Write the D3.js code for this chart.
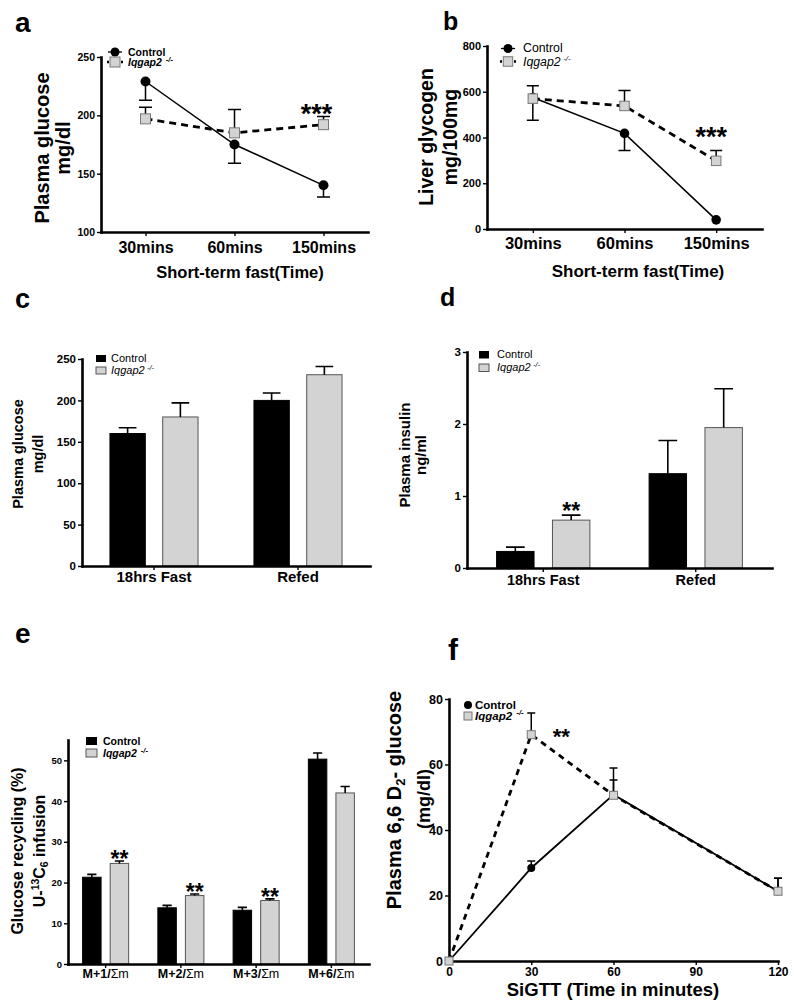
<!DOCTYPE html>
<html><head><meta charset="utf-8">
<script src="https://cdn.jsdelivr.net/npm/d3@7"></script>
<style>body{margin:0;background:#fff}svg{display:block}</style>
</head><body><svg id="chart" width="794" height="1006"></svg>
<script>
// ---------- DATA ----------
const timeCats = ["30mins","60mins","150mins"];
const aTicks = [100,150,200,250];
const aControl = [229,175,140], aControlErr = [16,16,10];
const aIqgap = [197,185,192],  aIqgapErr = [10,20,7];
const aSig = ["","","***"];
const bTicks = [0,200,400,600,800];
const bControl = [575,418,40], bControlErr = [100,75,0];
const bIqgap = [570,538,298],  bIqgapErr = [56,68,45];
const bSig = ["","","***"];
const condCats = ["18hrs Fast","Refed"];
const cTicks = [0,50,100,150,200,250];
const cControl = [160,200], cControlErr = [7,9];
const cIqgap = [180,231],  cIqgapErr = [17,10];
const dTicks = [0,1,2,3];
const dControl = [0.23,1.31], dControlErr = [0.06,0.46];
const dIqgap = [0.665,1.95], dIqgapErr = [0.07,0.54];
const dSig = ["**",""];
const isoCats = ["M+1","M+2","M+3","M+6"];
const eTicks = [0,10,20,30,40,50];
const eControl = [21.3,13.8,13.2,50.3], eControlErr = [0.7,0.6,0.7,1.5];
const eIqgap = [24.7,16.8,15.6,42.0],  eIqgapErr = [0.6,0.4,0.4,1.6];
const eSig = ["**","**","**",""];
const fTimes = [0,30,60,120];
const fXTicks = [0,30,60,90,120];
const fYTicks = [0,20,40,60,80];
const fControl = [0,28.4,50.8,21.3], fControlErr = [0,2.1,4.5,4];
const fIqgap = [0,69.1,50.6,21.3],  fIqgapErr = [0,6.6,8.3,4];
const fSig = ["","**","",""];
const legendNames = ["Control","Iqgap2"];

// ---------- HELPERS ----------
const FONT = '"Liberation Sans", Arial, Helvetica, sans-serif';
const svg = d3.select("#chart").attr("font-family", FONT);
svg.append("rect").attr("width",794).attr("height",1006).attr("fill","#fff");
const GREY = "#d3d3d3";
const numFmt = d3.format("~g");

function styleAxis(g, fs){
  g.attr("font-family", FONT);
  g.select(".domain").attr("stroke","#000").attr("stroke-width",2.6).attr("stroke-linecap","square");
  g.selectAll(".tick line").attr("stroke","#000").attr("stroke-width",1.4);
  g.selectAll(".tick text").attr("fill","#000").attr("font-weight","bold").attr("font-size",fs);
}
function xAxis(scale, y, fs, off, ticks, fmt){
  const ax = d3.axisBottom(scale).tickSize(4).tickSizeOuter(0);
  if (ticks) ax.tickValues(ticks);
  if (fmt) ax.tickFormat(fmt);
  const g = svg.append("g").attr("transform",`translate(0,${y})`).call(ax);
  styleAxis(g, fs);
  g.selectAll(".tick text").attr("y", off).attr("dy", 0);
  return g;
}
function yAxis(scale, x, fs, ticks){
  const g = svg.append("g").attr("transform",`translate(${x},0)`)
    .call(d3.axisLeft(scale).tickValues(ticks).tickFormat(numFmt).tickSize(4).tickPadding(2).tickSizeOuter(0));
  styleAxis(g, fs);
  return g;
}
function txt(x, y, s, fs, opts={}){
  return svg.append("text").attr("x",x).attr("y",y).attr("font-size",fs)
    .attr("font-weight", opts.weight||"bold").attr("text-anchor", opts.anchor||"start")
    .attr("font-style", opts.italic?"italic":"normal").attr("fill","#000").text(s);
}
function rotTitle(x, y, fs, parts){
  const t = svg.append("text").attr("transform",`translate(${x},${y}) rotate(-90)`)
    .attr("text-anchor","middle").attr("font-size",fs)
    .attr("font-weight","bold").attr("fill","#000");
  let shift = 0, first = true;
  parts.forEach(p=>{
    const ts = t.append("tspan").text(p.t);
    let target = 0;
    if (p.sup) { target = -fs*0.38; ts.attr("font-size", fs*0.65); }
    if (p.sub) { target = fs*0.22; ts.attr("font-size", fs*0.65); }
    ts.attr("dy", target - shift + (first ? fs*0.35 : 0));
    shift = target; first = false;
  });
  return t;
}
// legend: first label (Control) then italic Iqgap2 with superscript -/-
function legendPair(x, y1, y2, fs, weight, supFs){
  const c = txt(x, y1, legendNames[0], fs, {weight});
  const t = svg.append("text").attr("x",x).attr("y",y2).attr("font-size",fs)
    .attr("font-weight",weight).attr("font-style","italic").attr("fill","#000");
  const main = t.append("tspan").text(legendNames[1]);
  const cw = c.node().getComputedTextLength();
  const iw = main.node().getComputedTextLength();
  const dx = Math.max(0.5, cw - iw + 0.5);
  t.append("tspan").attr("dx", dx).attr("dy",-fs*0.4).attr("font-size",supFs).text("-/-");
}
function errBars(data, capW, sw){
  svg.append("g").selectAll("path").data(data.filter(d=>d.e>0)).join("path")
    .attr("d", d=>`M${d.x},${d.y0}V${d.y1}M${d.x-capW/2},${d.y1}H${d.x+capW/2}`)
    .attr("stroke","#000").attr("stroke-width",sw).attr("fill","none");
}
function linePanel(c){
  const line = d3.line().x((d,i)=>c.x(c.xv[i])).y(d=>c.y(d));
  svg.append("path").datum(c.iq).attr("d",line).attr("fill","none").attr("stroke","#000")
    .attr("stroke-width",c.dashW).attr("stroke-dasharray",c.dash);
  svg.append("path").datum(c.ctrl).attr("d",line).attr("fill","none").attr("stroke","#000")
    .attr("stroke-width",c.lineW);
  const eb = (vals, errs, dir) => vals.map((v,i)=>({x:c.x(c.xv[i]), y0:c.y(v), y1:c.y(v+dir*errs[i]), e:errs[i]}));
  errBars(eb(c.ctrl,c.ctrlErr,c.ctrlDir), c.capW, 1.5);
  errBars(eb(c.iq,c.iqErr,c.iqDir), c.capW, 1.5);
  svg.append("g").selectAll("circle").data(c.ctrl).join("circle")
    .attr("cx",(d,i)=>c.x(c.xv[i])).attr("cy",d=>c.y(d)).attr("r",c.r).attr("fill","#000");
  svg.append("g").selectAll("rect").data(c.iq).join("rect")
    .attr("x",(d,i)=>c.x(c.xv[i])-c.sq/2).attr("y",d=>c.y(d)-c.sq/2)
    .attr("width",c.sq).attr("height",c.sq).attr("fill",GREY).attr("stroke","#777").attr("stroke-width",1);
}
function barPanel(c){
  const inner = d3.scaleBand().domain(["c","i"]).range([0,c.x.bandwidth()]).paddingInner(0.33).paddingOuter(0.53);
  const rows = [];
  c.cats.forEach((k,i)=>{
    rows.push({k, s:"c", v:c.ctrl[i], e:c.ctrlErr[i]});
    rows.push({k, s:"i", v:c.iq[i], e:c.iqErr[i]});
  });
  const bx = d=>c.x(d.k)+inner(d.s);
  svg.append("g").selectAll("rect").data(rows).join("rect")
    .attr("x",bx).attr("y",d=>c.y(d.v)).attr("width",inner.bandwidth())
    .attr("height",d=>c.y(0)-c.y(d.v))
    .attr("fill",d=>d.s==="c"?"#000":GREY).attr("stroke",d=>d.s==="c"?"#000":"#555").attr("stroke-width",1);
  errBars(rows.map(d=>({x:bx(d)+inner.bandwidth()/2, y0:c.y(d.v), y1:c.y(d.v+d.e), e:d.e})), inner.bandwidth()*0.5, 1.6);
  return {inner, bx};
}
function markerLegend(x, y1, y2, r, sq, dashW){
  svg.append("line").attr("x1",x-7).attr("x2",x+7).attr("y1",y1).attr("y2",y1).attr("stroke","#000").attr("stroke-width",1.3);
  svg.append("circle").attr("cx",x).attr("cy",y1).attr("r",r).attr("fill","#000");
  svg.append("line").attr("x1",x-8).attr("x2",x+8).attr("y1",y2).attr("y2",y2).attr("stroke","#000")
    .attr("stroke-width",dashW).attr("stroke-dasharray","2,12");
  svg.append("rect").attr("x",x-sq/2).attr("y",y2-sq/2).attr("width",sq).attr("height",sq)
    .attr("fill",GREY).attr("stroke","#777");
}
function boxLegend(x, y1, y2, w, h){
  svg.append("rect").attr("x",x).attr("y",y1).attr("width",w).attr("height",h).attr("fill","#000");
  svg.append("rect").attr("x",x).attr("y",y2).attr("width",w).attr("height",h).attr("fill",GREY).attr("stroke","#555");
}

// ---------- PANEL A ----------
{
  const x = d3.scalePoint().domain(timeCats).range([101,368]).padding(0.5);
  const y = d3.scaleLinear().domain([100,250]).range([232,57]);
  xAxis(x, 232, 16, 21);
  yAxis(y, 101, 10.5, aTicks);
  linePanel({x, y, xv:timeCats, ctrl:aControl, ctrlErr:aControlErr, ctrlDir:-1,
    iq:aIqgap, iqErr:aIqgapErr, iqDir:1, r:5, sq:10, capW:13, dash:"7,5", dashW:2.8, lineW:1.5});
  aSig.forEach((s,i)=>{ if(s) txt(x(timeCats[i])-7, y(aIqgap[i]+aIqgapErr[i])+6, s, 27, {anchor:"middle"}); });
  markerLegend(115, 52, 62, 4.5, 10, 2.5);
  legendPair(128, 56, 66, 10.5, "bold", 7.5);
  rotTitle(42, 148, 20, [{t:"Plasma glucose"}]);
  rotTitle(63, 148, 20, [{t:"mg/dl"}]);
  txt(240, 278, "Short-term fast(Time)", 16.5, {anchor:"middle"});
  txt(15, 32, "a", 28);
}
// ---------- PANEL B ----------
{
  const x = d3.scalePoint().domain(timeCats).range([487,762]).padding(0.5);
  const y = d3.scaleLinear().domain([0,800]).range([229,46]);
  xAxis(x, 229, 16.5, 20);
  yAxis(y, 487, 11, bTicks);
  linePanel({x, y, xv:timeCats, ctrl:bControl, ctrlErr:bControlErr, ctrlDir:-1,
    iq:bIqgap, iqErr:bIqgapErr, iqDir:1, r:4.8, sq:9.5, capW:12, dash:"7,5", dashW:2.8, lineW:1.5});
  bSig.forEach((s,i)=>{ if(s) txt(x(timeCats[i])-5, y(bIqgap[i]+bIqgapErr[i])-5, s, 27, {anchor:"middle"}); });
  markerLegend(508, 48.5, 61.5, 4.5, 9.5, 2.5);
  legendPair(523, 52, 66, 12.3, "normal", 8);
  rotTitle(426, 137, 19.5, [{t:"Liver glycogen"}]);
  rotTitle(450, 137, 19.5, [{t:"mg/100mg"}]);
  txt(638, 277, "Short-term fast(Time)", 17, {anchor:"middle"});
  txt(443, 30, "b", 25);
}
// ---------- PANEL C ----------
{
  const x = d3.scaleBand().domain(condCats).range([82,370]);
  const y = d3.scaleLinear().domain([0,250]).range([566,359]);
  barPanel({x, y, cats:condCats, ctrl:cControl, ctrlErr:cControlErr, iq:cIqgap, iqErr:cIqgapErr});
  xAxis(x, 566, 15, 16);
  yAxis(y, 82, 11.5, cTicks);
  boxLegend(96, 355, 367, 10, 7);
  legendPair(111, 362, 374, 11, "normal", 7.5);
  rotTitle(18, 454, 14.5, [{t:"Plasma glucose"}]);
  rotTitle(38, 454, 14.5, [{t:"mg/dl"}]);
  txt(15, 308, "c", 27);
}
// ---------- PANEL D ----------
{
  const x = d3.scaleBand().domain(condCats).range([467,772]);
  const y = d3.scaleLinear().domain([0,3]).range([568,352]);
  const {inner} = barPanel({x, y, cats:condCats, ctrl:dControl, ctrlErr:dControlErr, iq:dIqgap, iqErr:dIqgapErr});
  xAxis(x, 568, 14.5, 17);
  yAxis(y, 467, 11.5, dTicks);
  dSig.forEach((s,i)=>{ if(s) txt(x(condCats[i])+inner("i")+inner.bandwidth()/2, y(dIqgap[i]+dIqgapErr[i])+4, s, 23, {anchor:"middle"}); });
  boxLegend(479, 351, 364, 10, 7.5);
  legendPair(497, 358, 371, 11, "normal", 7.5);
  rotTitle(405, 455, 15, [{t:"Plasma insulin"}]);
  rotTitle(421, 455, 15, [{t:"ng/ml"}]);
  txt(440, 306, "d", 25);
}
// ---------- PANEL E ----------
{
  const x = d3.scaleBand().domain(isoCats).range([68,369]);
  const y = d3.scaleLinear().domain([0,55]).range([964,740]);
  const {inner} = barPanel({x, y, cats:isoCats, ctrl:eControl, ctrlErr:eControlErr, iq:eIqgap, iqErr:eIqgapErr});
  const g = xAxis(x, 964, 12.5, 14, null, d=>"");
  g.selectAll(".tick text").each(function(d){
    const t = d3.select(this);
    t.append("tspan").text(d+"/");
    t.append("tspan").attr("font-weight","normal").text("\u03A3m");
  });
  yAxis(y, 68, 9.5, eTicks);
  eSig.forEach((s,i)=>{ if(s) txt(x(isoCats[i])+inner("i")+inner.bandwidth()/2, y(eIqgap[i]+eIqgapErr[i])+6, s, 23, {anchor:"middle"}); });
  boxLegend(86, 737, 749, 11, 8);
  legendPair(103, 745, 757, 10.5, "bold", 7.5);
  rotTitle(17, 851, 16, [{t:"Glucose recycling (%)"}]);
  rotTitle(39, 851, 16, [{t:"U-"},{t:"13",sup:true},{t:"C"},{t:"6",sub:true},{t:" infusion"}]);
  txt(15, 643, "e", 28);
}
// ---------- PANEL F ----------
{
  const x = d3.scaleLinear().domain([0,120]).range([449,778]);
  const y = d3.scaleLinear().domain([0,80]).range([961,699]);
  xAxis(x, 961, 12, 15, fXTicks);
  yAxis(y, 449, 12.5, fYTicks);
  linePanel({x, y, xv:fTimes, ctrl:fControl, ctrlErr:fControlErr, ctrlDir:1,
    iq:fIqgap, iqErr:fIqgapErr, iqDir:1, r:4, sq:8, capW:8, dash:"6,5", dashW:2.8, lineW:1.8});
  fSig.forEach((s,i)=>{ if(s) txt(x(fTimes[i])+30, y(fIqgap[i])+9, s, 22, {anchor:"middle"}); });
  svg.append("circle").attr("cx",468).attr("cy",705).attr("r",4).attr("fill","#000");
  svg.append("rect").attr("x",464).attr("y",712).attr("width",8).attr("height",8).attr("fill",GREY).attr("stroke","#777");
  legendPair(475, 709, 720, 11.5, "bold", 7.5);
  rotTitle(394, 800, 20, [{t:"Plasma 6,6 D"},{t:"2",sub:true},{t:"- glucose"}]);
  rotTitle(424, 799, 18, [{t:"(mg/dl)"}]);
  txt(613, 996, "SiGTT (Time in minutes)", 18.5, {anchor:"middle"});
  txt(448, 660, "f", 30);
}
</script></body></html>
